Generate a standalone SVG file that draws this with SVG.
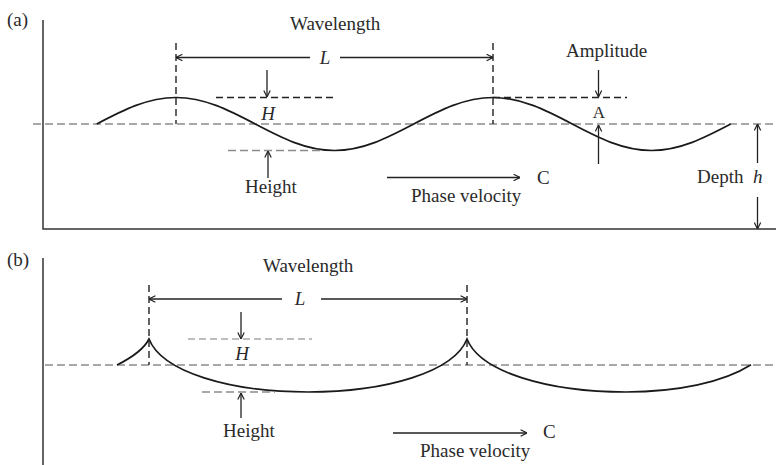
<svg xmlns="http://www.w3.org/2000/svg" width="776" height="465" viewBox="0 0 776 465">
<style>
text{font-family:"Liberation Serif","Times New Roman",serif;font-size:19px;fill:#2a2a2a}
.it{font-style:italic}
.axis{stroke:#333;stroke-width:1.5;fill:none}
.mean{stroke:#8c8c8c;stroke-width:1.6;stroke-dasharray:8 4;fill:none}
.dk{stroke:#222;stroke-width:1.4;stroke-dasharray:7 4;fill:none}
.lg{stroke:#a8a8a8;stroke-width:1.4;stroke-dasharray:7 4;fill:none}
.gr{stroke:#8c8c8c;stroke-width:1.5;stroke-dasharray:8 4;fill:none}
.wave{stroke:#1a1a1a;stroke-width:1.7;fill:none}
.arr{stroke:#222;stroke-width:1.3;fill:none;marker-end:url(#ah)}
</style>
<defs>
<marker id="ah" viewBox="0 0 10 10" refX="9.5" refY="5" markerUnits="userSpaceOnUse" markerWidth="8" markerHeight="8" orient="auto">
<path d="M1.5,1 L9.5,5 L1.5,9" fill="none" stroke="#222" stroke-width="1.5"/>
</marker>
</defs>

<g id="panel-a">
<text x="7" y="26">(a)</text>
<path class="axis" d="M43,20 V229 H776"/>
<line class="mean" x1="33" y1="124" x2="776" y2="124"/>
<path class="wave" d="M96.75,124 C122.6,110.42 147.32,97.5 176,97.5 C204.68,97.5 229.4,110.42 255.25,124 C281.1,137.58 305.82,150.5 334.5,150.5 C363.18,150.5 387.9,137.58 413.75,124 C439.6,110.42 464.32,97.5 493,97.5 C521.68,97.5 546.4,110.42 572.25,124 C598.1,137.58 622.82,150.5 651.5,150.5 C680.18,150.5 704.9,137.58 730.75,124"/>
<line class="dk" x1="176" y1="43" x2="176" y2="124"/>
<line class="dk" x1="493" y1="43" x2="493" y2="124"/>
<line class="dk" x1="216" y1="97.5" x2="337" y2="97.5"/>
<line class="dk" x1="493" y1="97.5" x2="627" y2="97.5"/>
<line class="gr" x1="228" y1="150.5" x2="322" y2="150.5"/>
<g id="a-wavelength"><text x="290" y="30">Wavelength</text><text class="it" x="325" y="64" text-anchor="middle">L</text></g>
<g id="a-height"><text class="it" x="268" y="120" text-anchor="middle">H</text><text x="245" y="193">Height</text></g>
<g id="a-phase"><text x="537" y="184">C</text><text x="411" y="202">Phase velocity</text></g>
<g id="a-amplitude"><text x="566" y="57">Amplitude</text><text x="599" y="118" text-anchor="middle" style="font-size:17px">A</text></g>
<g id="a-depth"><text x="697" y="183">Depth</text><text class="it" x="753" y="183">h</text></g>
</g>

<g id="panel-b">
<text x="7" y="266">(b)</text>
<path class="axis" d="M43,258 V465"/>
<line class="mean" x1="45" y1="365" x2="776" y2="365"/>
<path class="wave" d="M117,365 C131,358 144,349 149,339 C162,372 230,392 308,392 C386,392 454,372 467,339 C480,372 548,392 626,392 C677.8,392 723.7,382.2 751,364.8"/>
<line class="dk" x1="149" y1="285" x2="149" y2="365"/>
<line class="dk" x1="467" y1="285" x2="467" y2="365"/>
<line class="lg" x1="188" y1="339" x2="312" y2="339"/>
<line class="gr" x1="202" y1="392" x2="275" y2="392"/>
<g id="b-wavelength"><text x="263" y="272">Wavelength</text><text class="it" x="300" y="305" text-anchor="middle">L</text></g>
<g id="b-height"><text class="it" x="242" y="360" text-anchor="middle">H</text><text x="223" y="437">Height</text></g>
<g id="b-phase"><text x="543" y="438">C</text><text x="420" y="457">Phase velocity</text></g>
</g>

<g id="connectors">
<line class="arr" x1="310" y1="57.5" x2="176" y2="57.5"/>
<line class="arr" x1="340" y1="57.5" x2="493" y2="57.5"/>
<line class="arr" x1="267" y1="70" x2="267" y2="97"/>
<line class="arr" x1="268" y1="178" x2="268" y2="151"/>
<line class="arr" x1="387" y1="177.5" x2="520" y2="177.5"/>
<line class="arr" x1="598.5" y1="70" x2="598.5" y2="97"/>
<line class="arr" x1="598.5" y1="164" x2="598.5" y2="125"/>
<line class="arr" x1="757.5" y1="163" x2="757.5" y2="124"/>
<line class="arr" x1="757.5" y1="197" x2="757.5" y2="229"/>
<line class="arr" x1="282" y1="299" x2="149" y2="299"/>
<line class="arr" x1="321" y1="299" x2="467" y2="299"/>
<line class="arr" x1="241" y1="312" x2="241" y2="339"/>
<line class="arr" x1="241" y1="418" x2="241" y2="393"/>
<line class="arr" x1="393" y1="433" x2="527" y2="433"/>
</g>
</svg>
